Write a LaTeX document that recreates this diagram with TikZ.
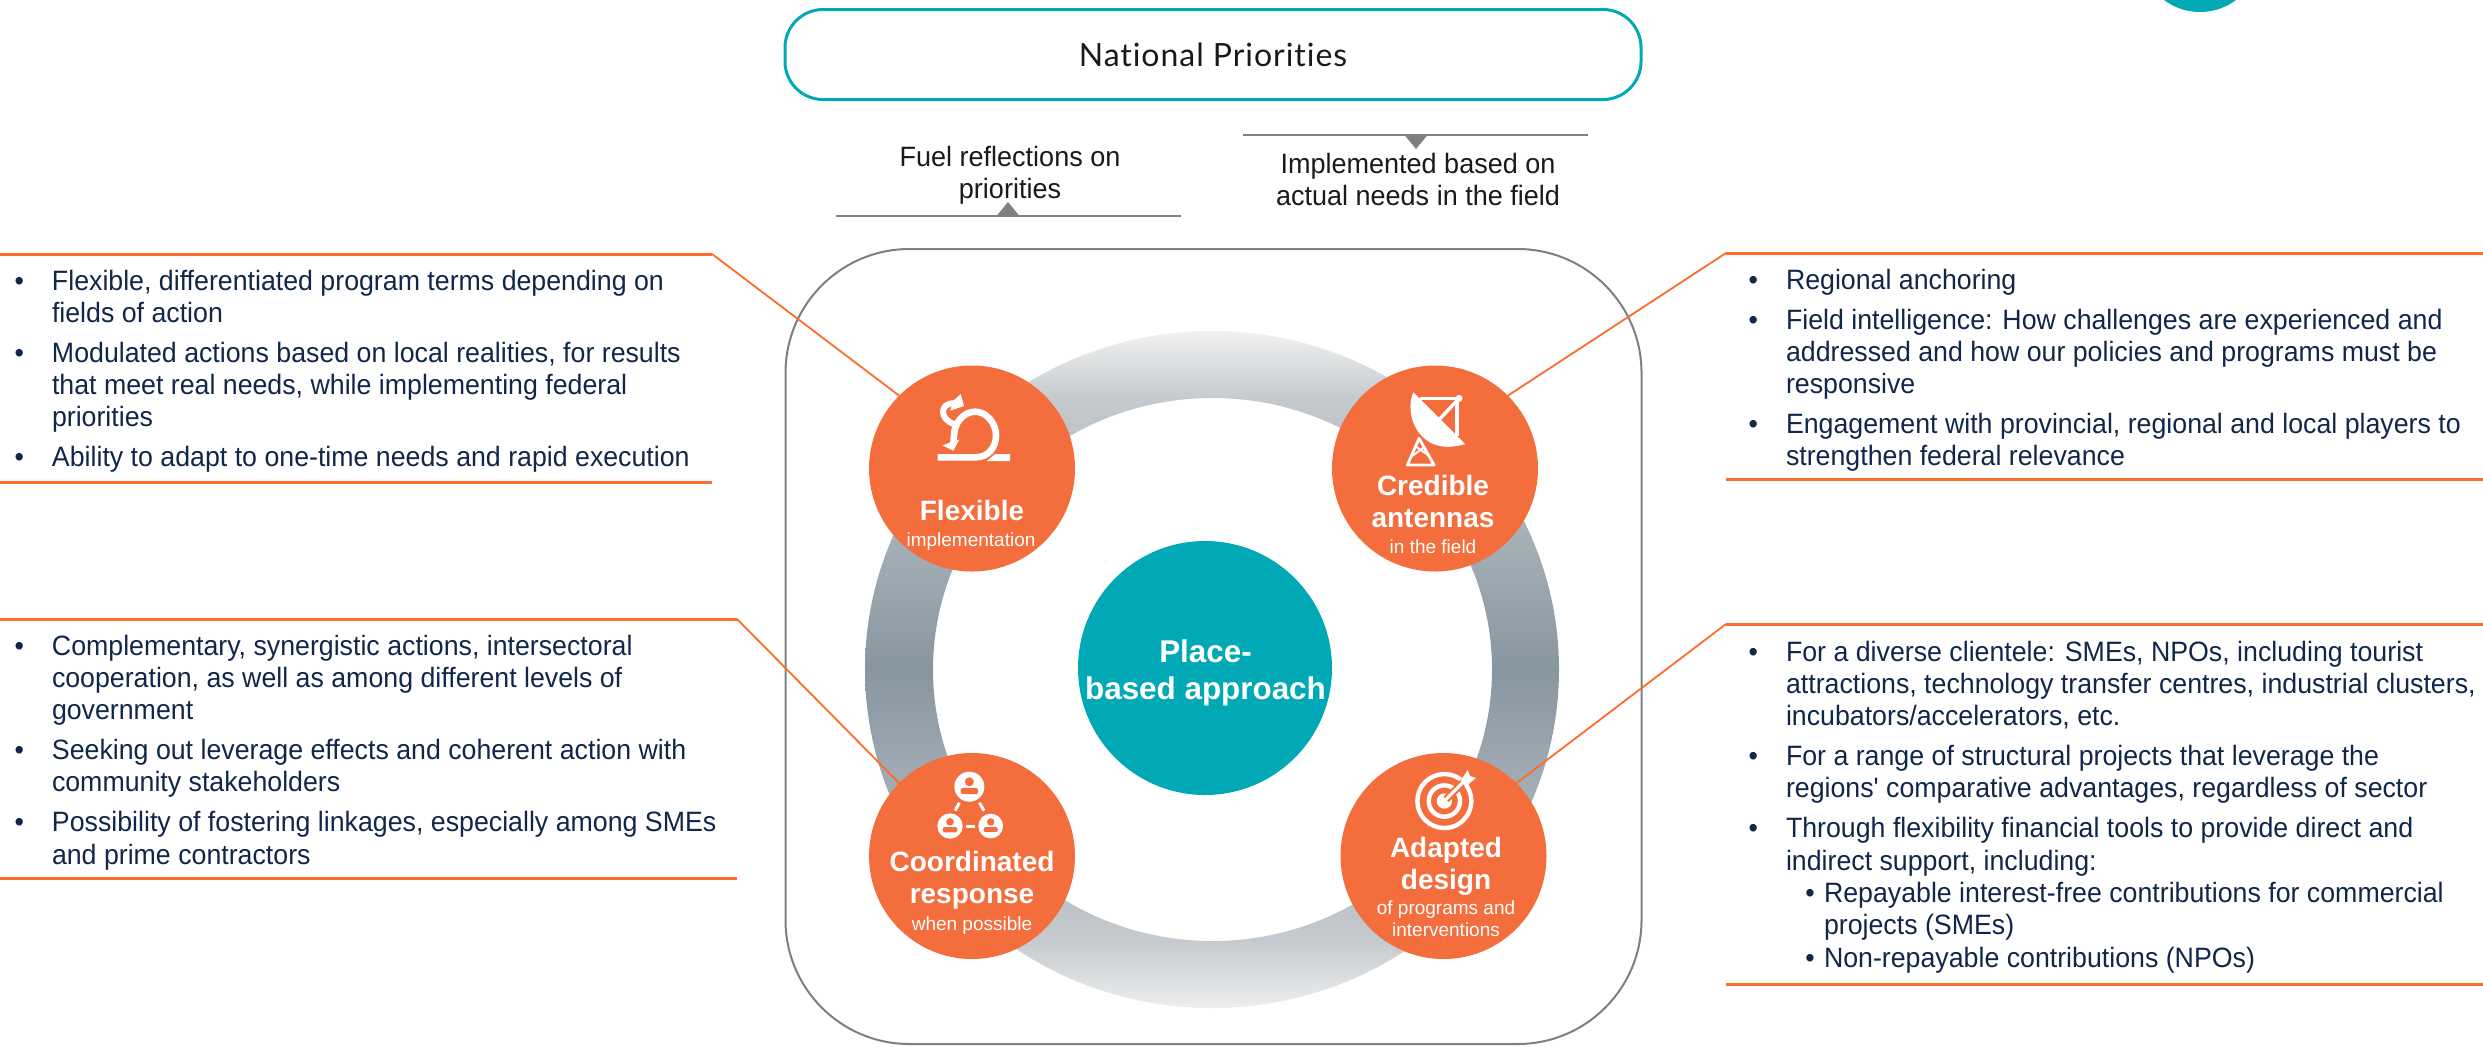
\documentclass[tikz,border=0pt]{standalone}
\usepackage{fontspec}
\setmainfont{Liberation Sans}
\newfontfamily\natfont[LetterSpace=3,Ligatures=NoCommon]{Lato}
\newfontfamily\panelfont[FakeStretch=0.955]{Liberation Sans}
\newfontfamily\capfont[FakeStretch=0.965]{Liberation Sans}
\definecolor{teal}{HTML}{00A9B5}
\definecolor{orng}{HTML}{F36D3D}
\definecolor{rule}{HTML}{FF6B2D}
\definecolor{navy}{HTML}{10274A}
\definecolor{gry}{HTML}{7F7F7F}
\definecolor{inkdark}{HTML}{1A1A1A}
\definecolor{ringmid}{HTML}{8896A0}
\definecolor{ringq}{HTML}{C5CACE}
\definecolor{ringtop}{HTML}{F1F1F1}
\definecolor{ringbot}{HTML}{EDEEEE}
\pgfdeclareverticalshading{ringsh}{100bp}{color(0bp)=(ringbot); color(25bp)=(ringbot); color(30bp)=(ringq); color(50bp)=(ringmid); color(70bp)=(ringq); color(75bp)=(ringtop); color(100bp)=(ringtop)}
\newcommand{\bt}{\llap{\textbullet\hspace{14pt}}}
\newcommand{\sbt}{\hspace*{19pt}\llap{\textbullet\hspace{4.6pt}}}
\newcommand{\sind}{\hspace*{19pt}}
\tikzset{
  every node/.style={inner sep=0pt,outer sep=0pt},
  hub/.style={circle,fill=orng,minimum size=103pt},
  panel/.style={anchor=base west,text=navy,font=\panelfont\fontsize{14}{16.15}\selectfont},
  caption/.style={anchor=base,text=inkdark,font=\capfont\fontsize{14}{16}\selectfont},
  title/.style={anchor=base,text=white,font=\fontsize{14}{16}\selectfont\bfseries},
  subtitle/.style={anchor=base,text=white,font=\fontsize{9.5}{11}\selectfont},
  rulethick/.style={draw=rule,line width=1.5pt},
  rulethin/.style={draw=rule,line width=0.9pt},
  greyrule/.style={draw=gry,line width=1pt},
  link/.style={draw=white,line width=1.5pt},
}
\begin{document}
\begin{tikzpicture}[x=0.5pt,y=-0.5pt]
\useasboundingbox (0,0) rectangle (2483,1046);
\clip (0,0) rectangle (2483,1046);

% corner disc
\fill[teal] (2200,-48) circle [radius=60];

% top box and frame
\node (top) at (1213,54.5) [draw=teal,line width=1.5pt,rounded corners=19pt,minimum width=428pt,minimum height=45pt,font=\natfont\fontsize{16}{19}\selectfont,text=inkdark] {National Priorities};
\node (frame) at (1213.5,646.5) [draw=gry,line width=1pt,rounded corners=62pt,minimum width=428pt,minimum height=397.5pt] {};

% captions
\coordinate (fa) at (836,216); \coordinate (fb) at (1181,216);
\draw[greyrule] (fa) -- (fb);
\fill[gry] (996.5,216) -- (1008,202) -- (1019.5,216) -- cycle;
\node[caption] (fuel) at (1010,166) {\begin{tabular}[t]{@{}c@{}}Fuel reflections on\\priorities\end{tabular}};
\coordinate (ia) at (1243,135); \coordinate (ib) at (1588,135);
\draw[greyrule] (ia) -- (ib);
\fill[gry] (1404.5,135) -- (1416,149) -- (1427.5,135) -- cycle;
\node[caption] (impl) at (1418,173) {\begin{tabular}[t]{@{}c@{}}Implemented based on\\actual needs in the field\end{tabular}};

% ring
\shade[even odd rule,shading=ringsh] (1212,669.5) ellipse [x radius=347,y radius=338.5] (1212.5,669.5) ellipse [x radius=279.5,y radius=271.5];

% hubs
\node[circle,fill=teal,minimum size=127pt] (core) at (1205,668) {};
\node[hub] (flex) at (972,468.5) {};
\node[hub] (cred) at (1435,468.5) {};
\node[hub] (coord) at (972,856) {};
\node[hub] (adapt) at (1443.5,856) {};

\node[anchor=base,text=white,font=\fontsize{15.7}{18.5}\selectfont\bfseries] (coreT) at (1205.5,662) {\begin{tabular}[t]{@{}c@{}}Place-\\based approach\end{tabular}};

\node[title] (flexT) at (972,520) {Flexible};
\node[subtitle] (flexS) at (971,546) {implementation};
\node[title] (credT) at (1433,495) {\begin{tabular}[t]{@{}c@{}}Credible\\antennas\end{tabular}};
\node[subtitle] (credS) at (1433,553) {in the field};
\node[title] (coordT) at (972,871) {\begin{tabular}[t]{@{}c@{}}Coordinated\\response\end{tabular}};
\node[subtitle] (coordS) at (972,930) {when possible};
\node[title] (adaptT) at (1446,857) {\begin{tabular}[t]{@{}c@{}}Adapted\\design\end{tabular}};
\node[subtitle] (adaptS) at (1446,914) {\begin{tabular}[t]{@{}c@{}}of programs and\\interventions\end{tabular}};

% panel rules
\coordinate (l1a) at (0,254); \coordinate (l1b) at (712,254);
\coordinate (l1c) at (0,482); \coordinate (l1d) at (712,482);
\coordinate (l2a) at (0,619); \coordinate (l2b) at (737,619);
\coordinate (l2c) at (0,878); \coordinate (l2d) at (737,878);
\coordinate (r1a) at (1726,253); \coordinate (r1b) at (2483,253);
\coordinate (r1c) at (1726,479); \coordinate (r1d) at (2483,479);
\coordinate (r2a) at (1726,624); \coordinate (r2b) at (2483,624);
\coordinate (r2c) at (1726,984); \coordinate (r2d) at (2483,984);
\foreach \p/\q in {l1a/l1b,l1c/l1d,l2a/l2b,l2c/l2d,r1a/r1b,r1c/r1d,r2a/r2b,r2c/r2d}{\draw[rulethick] (\p) -- (\q);}
\draw[rulethin] (l1b) -- (flex.135);
\draw[rulethin] (l2b) -- (coord.135);
\draw[rulethin] (r1a) -- (cred.45);
\draw[rulethin] (r2a) -- (adapt.45);

% panels
\node[panel] (p1) at (52,290) {\begin{tabular}[t]{@{}l@{}}
\bt Flexible, differentiated program terms depending on\\
fields of action\\[3.85pt]
\bt Modulated actions based on local realities, for results\\
that meet real needs, while implementing federal\\
priorities\\[3.85pt]
\bt Ability to adapt to one-time needs and rapid execution
\end{tabular}};
\node[panel] (p2) at (52,655) {\begin{tabular}[t]{@{}l@{}}
\bt Complementary, synergistic actions, intersectoral\\
cooperation, as well as among different levels of\\
government\\[3.85pt]
\bt Seeking out leverage effects and coherent action with\\
community stakeholders\\[3.85pt]
\bt Possibility of fostering linkages, especially among SMEs\\
and prime contractors
\end{tabular}};
\node[panel] (p3) at (1786,289) {\begin{tabular}[t]{@{}l@{}}
\bt Regional anchoring\\[3.85pt]
\bt Field intelligence: How challenges are experienced and\\
addressed and how our policies and programs must be\\
responsive\\[3.85pt]
\bt Engagement with provincial, regional and local players to\\
strengthen federal relevance
\end{tabular}};
\node[panel] (p4) at (1786,661) {\begin{tabular}[t]{@{}l@{}}
\bt For a diverse clientele: SMEs, NPOs, including tourist\\
attractions, technology transfer centres, industrial clusters,\\
incubators/accelerators, etc.\\[3.85pt]
\bt For a range of structural projects that leverage the\\
regions' comparative advantages, regardless of sector\\[3.85pt]
\bt Through flexibility financial tools to provide direct and\\
indirect support, including:\\
\sbt Repayable interest-free contributions for commercial\\
\sind projects (SMEs)\\
\sbt Non-repayable contributions (NPOs)
\end{tabular}};

% icon: flexible
\begin{scope}[shift={(840,330)},x=0.1667pt,y=-0.1667pt]
\draw[white,line width=3.3pt] (293,382) -- (405,382) .. controls (445,382) and (468,352) .. (468,316) .. controls (468,280) and (440,245) .. (405,245) .. controls (370,245) and (342,280) .. (342,316) -- (340,340);
\fill[white] (307,346) -- (358,328) -- (340,362) -- cycle;
\fill[white] (440,393) -- (510,393) -- (510,372) -- (465,372) -- cycle;
\draw[white,line width=3pt] (342,282) .. controls (298,268) and (298,218) .. (342,220);
\fill[white] (362,192) -- (372,228) -- (330,242) -- (340,212) -- cycle;
\end{scope}

% icon: antenna
\begin{scope}[shift={(1310,330)},x=0.1667pt,y=-0.1667pt]
\fill[white] (310,187) .. controls (280,250) and (325,385) .. (465,342) -- cycle;
\draw[white,line width=1.7pt] (330,205) -- (445,205);
\draw[white,line width=1.7pt] (447,205) -- (388,268);
\draw[white,line width=1.7pt] (441,205) -- (441,318);
\fill[white] (447,205) circle [radius=10.5];
\draw[white,line width=1.4pt,line join=round] (327,325) -- (292,405) -- (372,405) -- cycle;
\draw[white,line width=1pt] (306,378) -- (345,350) (318,350) -- (358,378);
\end{scope}

% icon: coordinated
\begin{scope}[shift={(840,740)},x=0.1667pt,y=-0.1667pt]
\foreach \cx/\cy/\r in {388/140/45,330/258/38,452/258/37}{
  \fill[white] (\cx,\cy) circle [radius=\r];
  \fill[orng] (\cx,{\cy-0.33*\r}) circle [radius={0.3*\r}];
  \fill[orng,rounded corners=1.2pt] ({\cx-0.58*\r},{\cy+0.5*\r}) -- ({\cx-0.58*\r},{\cy+0.08*\r}) -- ({\cx+0.58*\r},{\cy+0.08*\r}) -- ({\cx+0.58*\r},{\cy+0.5*\r}) -- cycle;
}
\draw[link] (358,188) -- (345,212);
\draw[link] (418,188) -- (432,212);
\draw[link] (377,258) -- (404,258);
\end{scope}

% icon: target
\begin{scope}[shift={(1320,740)},x=0.1667pt,y=-0.1667pt]
\draw[white,line width=2.2pt] (373,183) circle [radius=81];
\draw[white,line width=2.2pt] (373,183) circle [radius=47];
\fill[white] (373,183) circle [radius=23];
\draw[orng,line width=3.6pt] (378,178) -- (450,106);
\draw[white,line width=1.6pt] (373,183) -- (440,116);
\fill[white] (422,122) -- (443,90) -- (450,108) -- (468,114) -- (436,140) -- cycle;
\end{scope}
\end{tikzpicture}
\end{document}
